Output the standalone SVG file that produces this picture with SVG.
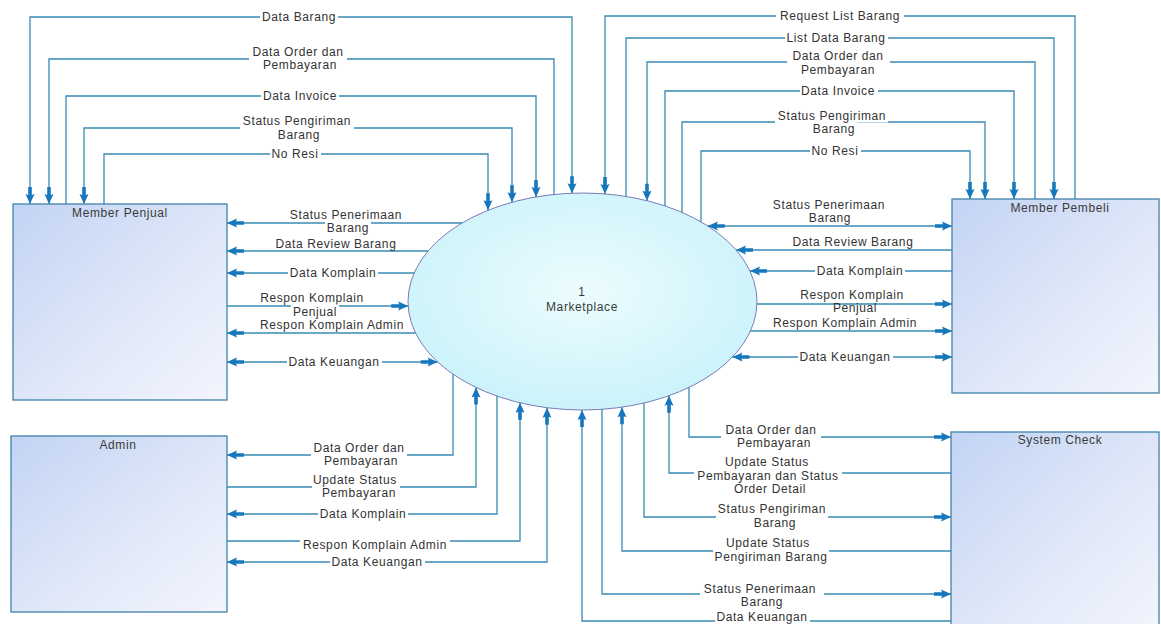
<svg xmlns="http://www.w3.org/2000/svg" width="1161" height="624" viewBox="0 0 1161 624">
<style>
.box{stroke:#3f82aa;stroke-width:1.3;fill:url(#boxg)}
.proc{stroke:#7b7bb8;stroke-width:1;fill:url(#procg)}
.title{font-family:"Liberation Sans",Arial,sans-serif;font-size:12px;letter-spacing:0.6px;fill:#3a3a3a;text-anchor:middle}
.lbl{font-family:"Liberation Sans",Arial,sans-serif;font-size:12px;letter-spacing:0.6px;fill:#333;text-anchor:middle}
.bg{fill:#fff}
.c{fill:none;stroke:#3a8ab4;stroke-width:1.3}
.e{marker-end:url(#arr)}
.b{marker-start:url(#arr);marker-end:url(#arr)}
</style>
<defs>
<linearGradient id="boxg" x1="0" y1="0" x2="1" y2="1">
<stop offset="0" stop-color="#c2d3f4"/>
<stop offset="0.5" stop-color="#dde6f8"/>
<stop offset="1" stop-color="#f3f5fd"/>
</linearGradient>
<radialGradient id="procg" cx="0.5" cy="0.45" r="0.6">
<stop offset="0" stop-color="#ecfcfe"/>
<stop offset="1" stop-color="#c9f2fa"/>
</radialGradient>
<marker id="arr" viewBox="-18 -6 19 12" refX="0" refY="0" markerWidth="19" markerHeight="12" markerUnits="userSpaceOnUse" orient="auto-start-reverse">
<path d="M0,0 L-10,-4.5 L-9,-1.8 L-17,-1.8 L-17,1.8 L-9,1.8 L-10,4.5 Z" fill="#1677bd"/>
</marker>
</defs>
<rect width="1161" height="624" fill="#fff"/>

<g id="member-penjual">
<rect class="box" x="13" y="204" width="214" height="196"/>
<text class="title" x="120" y="217">Member Penjual</text>
</g>
<g id="member-pembeli">
<rect class="box" x="952" y="199" width="207" height="194"/>
<text class="title" x="1060" y="212">Member Pembeli</text>
</g>
<g id="admin">
<rect class="box" x="11" y="436" width="216" height="176"/>
<text class="title" x="118" y="449">Admin</text>
</g>
<g id="system-check">
<rect class="box" x="951" y="432" width="208" height="200"/>
<text class="title" x="1060" y="444">System Check</text>
</g>
<g id="marketplace">
<ellipse class="proc" cx="582.5" cy="301.5" rx="174.5" ry="108.5"/>
<text class="title" x="582" y="296">1</text>
<text class="title" x="582" y="311">Marketplace</text>
</g>

<g id="connectors">
<path class="c b" d="M572,193.2 V17 H30 V204"/>
<path class="c e" d="M554,194.4 V59 H49 V204"/>
<path class="c e" d="M66,204 V96 H536 V196.9"/>
<path class="c b" d="M512,202.3 V128 H84 V204"/>
<path class="c e" d="M104,204 V154 H488 V210.3"/>
<path class="c e" d="M1075,199 V16 H605 V193.9"/>
<path class="c e" d="M626,196.4 V38 H1054 V199"/>
<path class="c e" d="M1035,199 V62 H647 V200.7"/>
<path class="c e" d="M665,205.9 V91 H1014 V199"/>
<path class="c e" d="M682,212.4 V122 H985 V199"/>
<path class="c e" d="M701,221.8 V151 H970 V199"/>
<path class="c e" d="M462,223 H227"/>
<path class="c e" d="M428,251 H227"/>
<path class="c e" d="M414,273 H227"/>
<path class="c e" d="M227,306 H408.2"/>
<path class="c e" d="M415.5,333 H227"/>
<path class="c b" d="M227,362 H437.7"/>
<path class="c b" d="M707.8,226 H952"/>
<path class="c e" d="M952,250 H736"/>
<path class="c e" d="M952,271 H750"/>
<path class="c e" d="M757,304 H952"/>
<path class="c e" d="M750.4,331 H952"/>
<path class="c b" d="M732.4,357 H952"/>
<path class="c e" d="M453,374.2 V455 H227"/>
<path class="c e" d="M227,487 H476 V387.4"/>
<path class="c e" d="M497,396.1 V514 H227"/>
<path class="c e" d="M227,541 H520 V402.8"/>
<path class="c b" d="M227,562 H547 V407.7"/>
<path class="c e" d="M689,387.4 V437 H951"/>
<path class="c e" d="M951,473 H669 V395.7"/>
<path class="c e" d="M644,403 V517 H951"/>
<path class="c e" d="M951,551 H622 V407.2"/>
<path class="c e" d="M602,409.3 V594 H951"/>
<path class="c e" d="M951,621 H582 V410"/>
</g>

<g id="labels">
<rect class="bg" x="260" y="10.5" width="78" height="13"/>
<text class="lbl" x="299" y="21">Data Barang</text>
<rect class="bg" x="249" y="45.5" width="98" height="26"/>
<text class="lbl" x="298" y="56">Data Order dan</text>
<text class="lbl" x="300" y="69">Pembayaran</text>
<rect class="bg" x="261" y="89.5" width="78" height="13"/>
<text class="lbl" x="300" y="100">Data Invoice</text>
<rect class="bg" x="240" y="114.5" width="114" height="27"/>
<text class="lbl" x="297" y="125">Status Pengiriman</text>
<text class="lbl" x="299" y="139">Barang</text>
<rect class="bg" x="270" y="147.5" width="51" height="13"/>
<text class="lbl" x="295" y="158">No Resi</text>

<rect class="bg" x="776" y="9.5" width="128" height="13"/>
<text class="lbl" x="840" y="20">Request List Barang</text>
<rect class="bg" x="785" y="31.5" width="103" height="13"/>
<text class="lbl" x="836" y="42">List Data Barang</text>
<rect class="bg" x="787" y="49.5" width="103" height="27"/>
<text class="lbl" x="838" y="60">Data Order dan</text>
<text class="lbl" x="838" y="74">Pembayaran</text>
<rect class="bg" x="800" y="84.5" width="78" height="13"/>
<text class="lbl" x="838" y="95">Data Invoice</text>
<rect class="bg" x="775" y="109.5" width="113" height="13"/>
<rect class="bg" x="775" y="120" width="82" height="15.5"/>
<text class="lbl" x="832" y="120">Status Pengiriman</text>
<text class="lbl" x="834" y="133">Barang</text>
<rect class="bg" x="810" y="144.5" width="51" height="13"/>
<text class="lbl" x="835" y="155">No Resi</text>

<rect class="bg" x="288" y="208.5" width="116" height="12"/>
<rect class="bg" x="325" y="221.5" width="46" height="13"/>
<text class="lbl" x="346" y="219">Status Penerimaan</text>
<text class="lbl" x="348" y="232">Barang</text>
<text class="lbl" x="336" y="248">Data Review Barang</text>
<rect class="bg" x="288" y="266.5" width="90" height="13"/>
<text class="lbl" x="333" y="277">Data Komplain</text>
<text class="lbl" x="312" y="302">Respon Komplain</text>
<rect class="bg" x="291" y="304.5" width="48" height="13"/>
<text class="lbl" x="315" y="316">Penjual</text>
<text class="lbl" x="332" y="329">Respon Komplain Admin</text>
<rect class="bg" x="287" y="355.5" width="95" height="13"/>
<text class="lbl" x="334" y="366">Data Keuangan</text>

<text class="lbl" x="829" y="209">Status Penerimaan</text>
<text class="lbl" x="830" y="222">Barang</text>
<text class="lbl" x="853" y="246">Data Review Barang</text>
<rect class="bg" x="815" y="264.5" width="90" height="13"/>
<text class="lbl" x="860" y="275">Data Komplain</text>
<text class="lbl" x="852" y="299">Respon Komplain</text>
<text class="lbl" x="855" y="312">Penjual</text>
<text class="lbl" x="845" y="327">Respon Komplain Admin</text>
<rect class="bg" x="798" y="350.5" width="95" height="13"/>
<text class="lbl" x="845" y="361">Data Keuangan</text>

<rect class="bg" x="311" y="441.5" width="96" height="26"/>
<text class="lbl" x="359" y="452">Data Order dan</text>
<text class="lbl" x="361" y="465">Pembayaran</text>
<rect class="bg" x="312" y="473.5" width="88" height="26"/>
<text class="lbl" x="355" y="484">Update Status</text>
<text class="lbl" x="359" y="497">Pembayaran</text>
<rect class="bg" x="318" y="507.5" width="90" height="13"/>
<text class="lbl" x="363" y="518">Data Komplain</text>
<rect class="bg" x="300" y="538" width="150" height="14"/>
<text class="lbl" x="375" y="549">Respon Komplain Admin</text>
<rect class="bg" x="330" y="555.5" width="95" height="13"/>
<text class="lbl" x="377" y="566">Data Keuangan</text>

<rect class="bg" x="721" y="423.5" width="100" height="26"/>
<text class="lbl" x="771" y="434">Data Order dan</text>
<text class="lbl" x="774" y="447">Pembayaran</text>
<rect class="bg" x="694" y="455.5" width="148" height="40"/>
<text class="lbl" x="767" y="466">Update Status</text>
<text class="lbl" x="768" y="480">Pembayaran dan Status</text>
<text class="lbl" x="770" y="493">Order Detail</text>
<rect class="bg" x="716" y="502.5" width="112" height="27"/>
<text class="lbl" x="772" y="513">Status Pengiriman</text>
<text class="lbl" x="775" y="527">Barang</text>
<rect class="bg" x="713" y="536.5" width="116" height="27"/>
<text class="lbl" x="768" y="547">Update Status</text>
<text class="lbl" x="771" y="561">Pengiriman Barang</text>
<rect class="bg" x="700" y="582.5" width="124" height="26"/>
<text class="lbl" x="760" y="593">Status Penerimaan</text>
<text class="lbl" x="762" y="606">Barang</text>
<rect class="bg" x="715" y="612" width="95" height="12"/>
<text class="lbl" x="762" y="621" font-size="11.5">Data Keuangan</text>
</g>
</svg>
